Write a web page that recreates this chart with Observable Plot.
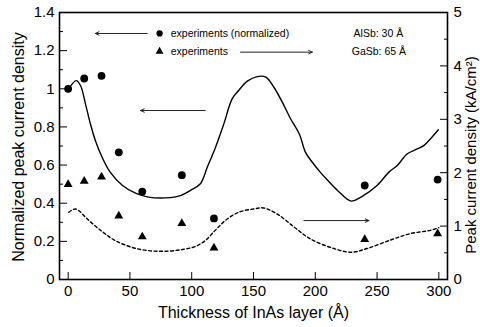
<!DOCTYPE html>
<html>
<head>
<meta charset="utf-8">
<script src="https://cdn.jsdelivr.net/npm/d3@7"></script>
<script src="https://cdn.jsdelivr.net/npm/@observablehq/plot@0.6"></script>
<style>
  html, body { margin: 0; padding: 0; background: #fff; }
  #chart svg { display: block; }
</style>
</head>
<body>
<div id="chart"></div>
<script>
// InAs layer thickness (Å) of the measured samples
const thickness = [0, 13, 27, 41, 60, 92, 118, 240, 299];
// Normalized peak current density (left axis)
const normalizedPeak = [1.0, 1.054, 1.068, 0.667, 0.461, 0.547, 0.32, 0.493, 0.524];
// Measured peak current density, kA/cm² (right axis)
const peakCurrent = [1.78, 1.84, 1.92, 1.19, 0.80, 1.05, 0.59, 0.75, 0.86];

// Calculated normalized peak current density (solid curve, left axis)
const calcX = [0.5, 6.5, 10, 14, 18, 22, 27.5, 34, 44, 54.5, 65, 79, 91, 99, 107, 112.6, 119.3, 126, 132.8, 138, 145, 153, 160, 166.5, 173.3, 180, 187, 192, 197, 204, 210, 218, 229, 237, 250, 259.6, 266.4, 274.5, 282.6, 288, 293.3, 299.6];
const calcNorm = [1.0, 1.043, 1.017, 0.921, 0.816, 0.729, 0.641, 0.563, 0.493, 0.453, 0.432, 0.428, 0.44, 0.467, 0.502, 0.589, 0.694, 0.816, 0.948, 0.991, 1.04, 1.064, 1.061, 1.008, 0.93, 0.843, 0.764, 0.668, 0.62, 0.563, 0.52, 0.467, 0.411, 0.432, 0.493, 0.563, 0.598, 0.659, 0.685, 0.703, 0.738, 0.785];

// Calculated peak current density, kA/cm² (dashed curve, right axis)
const calcJX = [0.5, 6, 17, 28, 38, 52, 65, 79, 92, 103, 111, 119, 127, 138, 150, 158, 169, 183, 196, 215, 229, 242, 261, 277, 293, 300];
const calcJ = [1.26, 1.32, 1.10, 0.89, 0.73, 0.60, 0.54, 0.53, 0.56, 0.62, 0.73, 0.92, 1.10, 1.26, 1.32, 1.34, 1.23, 0.98, 0.76, 0.58, 0.51, 0.58, 0.74, 0.86, 0.92, 0.97];

// Axis ticks
const xTicks = [0, 50, 100, 150, 200, 250, 300];
const leftTicks = [0, 0.2, 0.4, 0.6, 0.8, 1, 1.2, 1.4];
const leftMinor = [0.1, 0.3, 0.5, 0.7, 0.9, 1.1, 1.3];
const rightTicks = [0, 1, 2, 3, 4, 5];
const rightMinor = [0.5, 1.5, 2.5, 3.5, 4.5];

// Right axis (0–5 kA/cm²) shares the frame with the left axis (0–1.4)
const rightMax = 5, leftMax = 1.4;
const toLeft = (j) => j * leftMax / rightMax;

// Legend entries and annotation arrows, in data units
const legendRows = [
  {x: 83, y: 1.29, label: "experiments (normalized)", symbol: "circle"},
  {x: 83, y: 1.196, label: "experiments", symbol: "triangle"}
];
const noteRows = [
  {x: 231, y: 1.29, label: "AlSb: 30 Å"},
  {x: 229.5, y: 1.196, label: "GaSb: 65 Å"}
];
const arrows = [
  {x1: 64, x2: 22, y: 1.29},
  {x1: 139.5, x2: 197.6, y: 1.192},
  {x1: 111, x2: 58.6, y: 0.886},
  {x1: 190.8, x2: 243.4, y: 0.309}
];

const points = thickness.map((t, i) => ({t, norm: normalizedPeak[i], j: peakCurrent[i]}));
const calcLine = calcX.map((t, i) => ({t, v: calcNorm[i]}));
const calcJLine = calcJX.map((t, i) => ({t, v: toLeft(calcJ[i])}));

const font = "'Liberation Sans', Arial, Helvetica, sans-serif";

const chart = Plot.plot({
  width: 480,
  height: 327,
  marginLeft: 59,
  marginRight: 33,
  marginTop: 12,
  marginBottom: 48,
  style: {fontFamily: font, color: "#000", background: "#fff"},
  x: {domain: [-7, 307]},
  y: {domain: [0, leftMax]},
  marks: [
    // bottom axis: labels and inward ticks
    Plot.axisX({ticks: xTicks, tickSize: 0, tickPadding: 6, fontSize: 15, label: null}),
    Plot.axisX({ticks: xTicks, tickSize: -7, tickFormat: () => "", label: null}),
    // left axis
    Plot.axisY({ticks: leftTicks, tickSize: 0, tickPadding: 5, fontSize: 15, label: null,
      tickFormat: d => d === 0 || d === 1 ? String(d) : d3.format(".1f")(d)}),
    Plot.axisY({ticks: leftTicks, tickSize: -8, tickFormat: () => "", label: null}),
    Plot.axisY({ticks: leftMinor, tickSize: -4, tickFormat: () => "", label: null}),
    // right axis (kA/cm²)
    Plot.axisY({anchor: "right", ticks: rightTicks.map(toLeft), tickSize: 0, tickPadding: 6, fontSize: 15,
      label: null, tickFormat: d => String(Math.round(d * rightMax / leftMax))}),
    Plot.axisY({anchor: "right", ticks: rightTicks.map(toLeft), tickSize: -8, tickFormat: () => "", label: null}),
    Plot.axisY({anchor: "right", ticks: rightMinor.map(toLeft), tickSize: -4, tickFormat: () => "", label: null}),
    Plot.frame({stroke: "#000", strokeWidth: 1.6}),

    // calculated curves
    Plot.line(calcLine, {x: "t", y: "v", curve: "catmull-rom", stroke: "#000", strokeWidth: 1.4}),
    Plot.line(calcJLine, {x: "t", y: "v", curve: "catmull-rom", stroke: "#000", strokeWidth: 1.4, strokeDasharray: "3,2.5"}),

    // measurements
    Plot.dot(points, {x: "t", y: "norm", r: 3.9, fill: "#000", stroke: null}),
    Plot.dot(points, {x: "t", y: d => toLeft(d.j), r: 3.3, symbol: "triangle", fill: "#000", stroke: null}),

    // arrows
    Plot.arrow(arrows, {x1: "x1", x2: "x2", y1: "y", y2: "y", stroke: "#222", strokeWidth: 1, headLength: 6, headAngle: 50}),

    // legend
    Plot.dot(legendRows, {x: d => d.x - 9, y: "y", r: d => d.symbol === "circle" ? 3.4 : 3, symbol: "symbol", fill: "#000", stroke: null}),
    Plot.text(legendRows, {x: "x", y: "y", text: "label", textAnchor: "start", fontSize: 10.5}),
    Plot.text(noteRows, {x: "x", y: "y", text: "label", textAnchor: "start", fontSize: 10.5}),

    // axis titles
    Plot.text(["Thickness of InAs layer (Å)"], {frameAnchor: "bottom", dy: 38, fontSize: 16}),
    Plot.text(["Normalized peak current density"], {frameAnchor: "left", textAnchor: "middle", dx: -41, dy: 1, rotate: -90, fontSize: 16}),
    Plot.text(["Peak current density (kA/cm²)"], {frameAnchor: "right", textAnchor: "middle", dx: 24, dy: 9, rotate: -90, fontSize: 15})
  ]
});

document.getElementById("chart").append(chart);
</script>
</body>
</html>
